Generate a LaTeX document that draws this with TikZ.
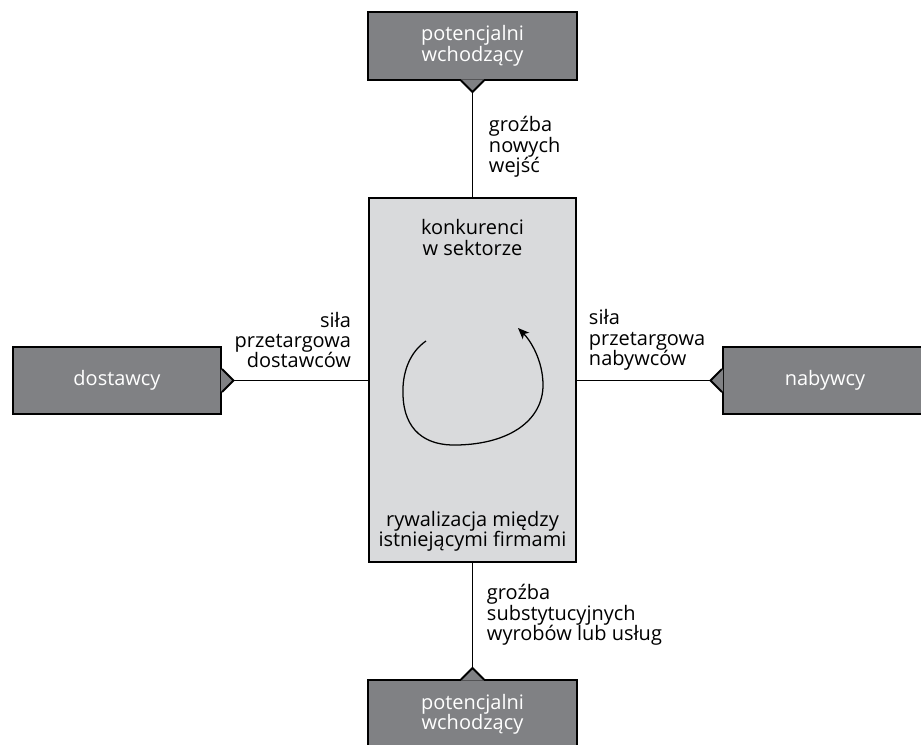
\documentclass[tikz,border=0pt]{standalone}
\usepackage{fontspec}
\setmainfont{Open Sans}
\usepackage{tikz}
\usepackage{xcolor}
\usetikzlibrary{arrows, arrows.meta, positioning}

\definecolor{forcegray}{HTML}{808184}
\definecolor{marketgray}{HTML}{D9DADC}

\begin{document}
\begin{tikzpicture}[x=0.025cm, y=-0.025cm, >={Stealth[length=8pt, width=6.5pt, inset=2pt]}, line width=1.4pt]
    \tikzstyle{force}=[rectangle, draw, fill=forcegray, text=white, align=center, inner sep=0pt, minimum width=5.2cm, minimum height=1.68cm, font=\fontsize{14.2}{14.5}\selectfont]
    \tikzstyle{market}=[rectangle, draw, fill=marketgray, inner sep=0pt, minimum width=5.175cm, minimum height=9.1cm]
    \tikzstyle{caption}=[align=left, inner sep=0pt, font=\fontsize{14.2}{14.5}\selectfont]

    \useasboundingbox (0,0) rectangle (921,744);

    \node[market]   (ctr)   at (472.5,380)  {};
    \node[force]    (ent)   at (472.5,46)   {potencjalni\\wchodzący};
    \node[force]    (sub)   at (472.5,714)  {potencjalni\\wchodzący};
    \node[force]    (sup)   at (117,380.5)  {dostawcy};
    \node[force, minimum width=5.1cm] (buy) at (825,380.5) {nabywcy};

    % notches pointing to the market box
    \foreach \b/\a/\ux/\uy in {ent/south/0/1, sub/north/0/-1, sup/east/1/0, buy/west/-1/0} {
        \coordinate (tip\b) at ([shift={({\ux*11.5},{\uy*11.5})}]\b.\a);
        \fill[forcegray] ([shift={({\uy*11.5-(\ux)*1.2},{\ux*11.5-(\uy)*1.2})}]\b.\a) -- (tip\b)
            -- ([shift={({-(\uy)*11.5-(\ux)*1.2},{-(\ux)*11.5-(\uy)*1.2})}]\b.\a) -- cycle;
        \draw[line join=miter] ([shift={({\uy*11.5},{\ux*11.5})}]\b.\a) -- (tip\b)
            -- ([shift={({-(\uy)*11.5},{-(\ux)*11.5})}]\b.\a);
    }

    \draw (tipent) -- (ctr.north);
    \draw (tipsub) -- (ctr.south);
    \draw (tipsup) -- (tipsup -| ctr.west);
    \draw (tipbuy) -- (tipbuy -| ctr.east);

    \node[caption, anchor=west]                 (entl)  at (488,147)    {groźba\\nowych\\wejść};
    \node[caption, anchor=west]                 (subl)  at (486,615)    {groźba\\substytucyjnych\\wyrobów lub usług};
    \node[caption, anchor=east, align=right]    (supl)  at (352,340)    {siła\\przetargowa\\dostawców};
    \node[caption, anchor=west]                 (buyl)  at (588,340)    {siła\\przetargowa\\nabywców};
    \node[caption, align=center]                (ctrt)  at (472.5,237.5) {konkurenci\\w sektorze};
    \node[caption, align=center]                (ctrb)  at (472.5,531)  {rywalizacja między\\istniejącymi firmami};

    % rivalry loop
    \draw[->, line width=0.9pt] (426,341) .. controls (410,352) and (402,372) .. (403,395)
        .. controls (404,430) and (425,446) .. (457,445)
        .. controls (510,444) and (543,420) .. (543,385)
        .. controls (543,360) and (530,340) .. (518,328);
\end{tikzpicture}
\end{document}
